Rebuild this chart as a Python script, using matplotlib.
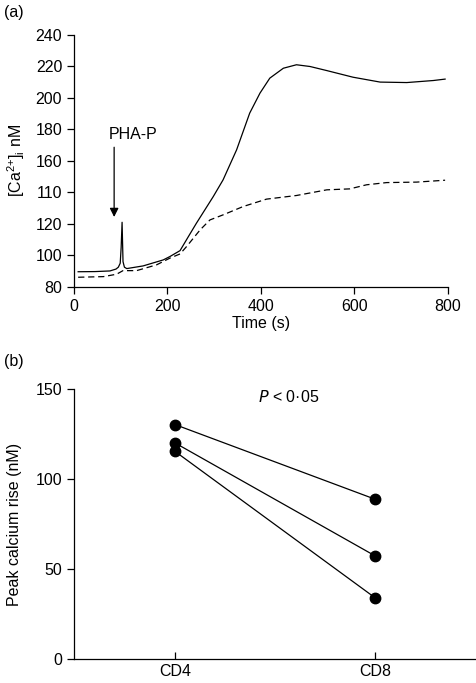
import numpy as np
import matplotlib.pyplot as plt

plt.rcParams['font.family'] = ['Liberation Sans', 'DejaVu Sans']
plt.rcParams['mathtext.default'] = 'regular'

# (a) calcium trace
t_solid = [9, 45, 77, 90, 95, 99, 101, 103, 105, 108, 113, 148, 191, 205, 227, 245, 262,
           298, 319, 348, 376, 398, 419, 448, 476, 505, 541, 597, 655, 712, 769, 794]
ca_solid = [89.6, 89.7, 90.1, 91.3, 92.5, 95, 105, 121, 96, 92.5, 91.6, 93.3, 97.1, 99.2, 103, 112, 120.4,
            137.3, 147.9, 167, 190.3, 203, 212.5, 218.8, 221, 219.9, 217.3, 213.1, 210, 209.7, 211, 211.9]
t_dash = [9, 63, 91, 105, 134, 177, 205, 227, 241, 270, 291, 319, 362, 412, 476,
          541, 590, 626, 669, 733, 794]
ca_dash = [86.1, 86.5, 88, 90.3, 90.3, 94, 98.2, 100.9, 105.6, 116.2, 122.5, 125.7, 131, 135.7, 138,
           141.6, 142.2, 144.8, 146.2, 146.5, 147.7]
yticks_a = [80, 100, 120, 140, 160, 180, 200, 220, 240]
ytick_labels_a = ['80', '100', '120', '110', '160', '180', '200', '220', '240']

# (b) peak calcium rise per donor
groups = ['CD4', 'CD8']
cd4 = [130.4, 120.2, 115.5]
cd8 = [88.9, 57.4, 34.1]

fs = 11.5
fig = plt.figure(figsize=(4.77, 6.83), dpi=100)
ax1 = fig.add_axes([0.155, 0.580, 0.784, 0.369])
ax2 = fig.add_axes([0.155, 0.035, 0.841, 0.395])

ax1.plot(t_solid, ca_solid, color='black', lw=0.9)
ax1.plot(t_dash, ca_dash, color='black', lw=0.9, ls=(0, (5, 3)))
ax1.set_xlim(0, 800)
ax1.set_ylim(80, 240)
ax1.set_yticks(yticks_a)
ax1.set_yticklabels(ytick_labels_a)
ax1.set_xticks([0, 200, 400, 600, 800])
ax1.set_xlabel('Time (s)', fontsize=fs, labelpad=2)
ax1.set_ylabel('[Ca$^{2{+}}$]$_{i}$ nM', fontsize=fs, labelpad=6)
ax1.annotate('', xy=(86, 122.6), xytext=(86, 170.4),
             arrowprops=dict(arrowstyle='-|>', color='black', lw=0.9, mutation_scale=13))
ax1.text(126, 176.5, 'PHA-P', ha='center', va='center', fontsize=fs)

ax2.plot([0, 1], [cd4, cd8], color='black', lw=0.9)
ax2.plot([0] * 3, cd4, 'o', color='black', ms=7.5)
ax2.plot([1] * 3, cd8, 'o', color='black', ms=7.5)
ax2.set_xlim(-0.505, 1.5)
ax2.set_ylim(0, 150)
ax2.set_yticks([0, 50, 100, 150])
ax2.set_xticks([0, 1])
ax2.set_xticklabels(groups)
ax2.tick_params(axis='x', direction='in', length=5)
ax2.set_ylabel('Peak calcium rise (nM)', fontsize=fs, labelpad=10)
ax2.text(0.57, 145.7, '$\\mathit{P}$ < 0·05', ha='center', va='center', fontsize=fs)

for ax in (ax1, ax2):
    ax.spines['top'].set_visible(False)
    ax.spines['right'].set_visible(False)
    ax.spines['left'].set_linewidth(0.9)
    ax.spines['bottom'].set_linewidth(0.9)
    ax.tick_params(width=0.9, labelsize=fs)
ax1.tick_params(length=5)
ax2.tick_params(axis='y', length=5)

fig.text(0.008, 0.982, '(a)', fontsize=fs, va='center')
fig.text(0.008, 0.470, '(b)', fontsize=fs, va='center')

fig.savefig('out.png', dpi=100)
